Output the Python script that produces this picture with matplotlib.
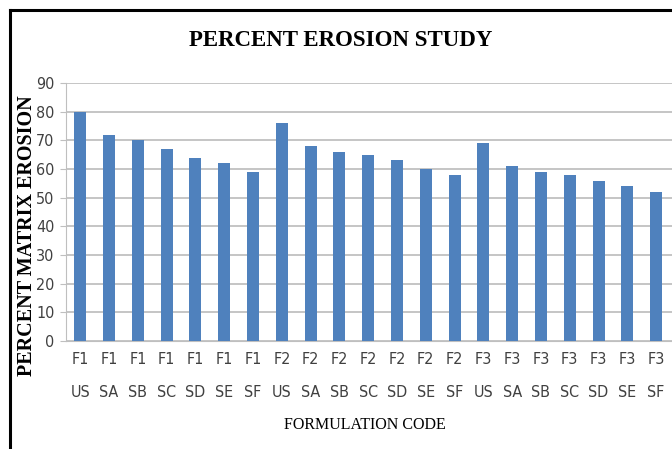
import matplotlib.pyplot as plt
from matplotlib.lines import Line2D

# categorias y valores
formulas = ['F1'] * 7 + ['F2'] * 7 + ['F3'] * 7
codigos = ['US', 'SA', 'SB', 'SC', 'SD', 'SE', 'SF'] * 3
erosion = [80, 72, 70, 67, 64, 62, 59,
           76, 68, 66, 65, 63, 60, 58,
           69, 61, 59, 58, 56, 54, 52]
etiquetas = [f + '\n' + c for f, c in zip(formulas, codigos)]

fig = plt.figure(figsize=(6.72, 4.49), dpi=100)
ax = fig.add_axes([0.098, 0.2405, 0.902, 0.5745])

x = range(len(erosion))
ax.bar(x, erosion, width=0.42, color='#4F81BD', zorder=3)

ax.set_ylim(0, 90)
ax.set_yticks(range(0, 91, 10))
ax.set_xlim(-0.5, len(erosion) - 0.45)
ax.set_xticks(list(x))
ax.set_xticklabels(etiquetas, linespacing=2.45)

for t in ax.get_xticklabels() + ax.get_yticklabels():
    t.set_family('DejaVu Sans')
    t.set_fontstretch('condensed')
    t.set_fontsize(11.5)
    t.set_color('#404040')

ax.grid(axis='y', color='#C0C0C0', linewidth=1.3, zorder=0)
for s in ['top', 'right']:
    ax.spines[s].set_visible(False)
ax.spines['left'].set_color('#BFBFBF')
ax.spines['bottom'].set_color('#BFBFBF')
ax.tick_params(axis='y', length=4, color='#BFBFBF', pad=4)
ax.tick_params(axis='x', length=0, pad=8)

fig.text(0.507, 0.91, 'PERCENT EROSION STUDY', ha='center', va='center',
         family='Liberation Serif', fontweight='bold', fontsize=16.5)
fig.text(0.040, 0.475, 'PERCENT MATRIX EROSION', ha='center', va='center',
         rotation=90, family='Liberation Serif', fontweight='bold', fontsize=14.5)
fig.text(0.543, 0.053, 'FORMULATION CODE', ha='center', va='center',
         family='Liberation Serif', fontsize=11.5)

# marco del borde izquierdo y superior
fig.add_artist(Line2D([0.015, 0.015], [0, 0.978], color='black', linewidth=2.2,
                      transform=fig.transFigure))
fig.add_artist(Line2D([0.015, 1.0], [0.978, 0.978], color='black', linewidth=2.2,
                      transform=fig.transFigure))

fig.savefig('out.png', dpi=100)
